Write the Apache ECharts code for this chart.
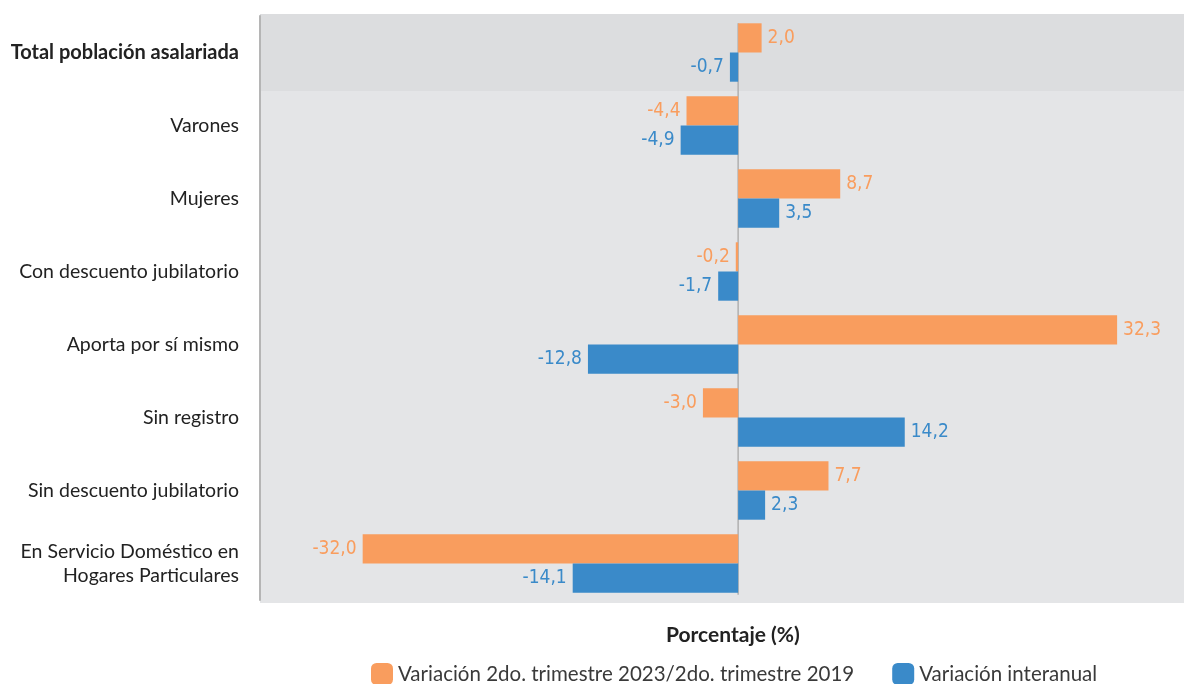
<!DOCTYPE html>
<html>
<head>
<meta charset="utf-8">
<script src="https://cdn.jsdelivr.net/npm/echarts@6/dist/echarts.min.js"></script>
<style>html,body{margin:0;padding:0;background:#fff}#c{width:1184px;height:684px}</style>
</head>
<body>
<div id="c"></div>
<script>
const categories = [
  'Total población asalariada',
  'Varones',
  'Mujeres',
  'Con descuento jubilatorio',
  'Aporta por sí mismo',
  'Sin registro',
  'Sin descuento jubilatorio',
  'En Servicio Doméstico en\nHogares Particulares'
];
const seriesNames = [
  'Variación 2do. trimestre 2023/2do. trimestre 2019',
  'Variación interanual'
];
const var2019 = [2.0, -4.4, 8.7, -0.2, 32.3, -3.0, 7.7, -32.0];
const varInteranual = [-0.7, -4.9, 3.5, -1.7, -12.8, 14.2, 2.3, -14.1];
const axisTitle = 'Porcentaje (%)';

const ORANGE = '#F99D5E';
const BLUE = '#3A8AC9';
const LIGHT = '#E4E5E7';
const DARK = '#DCDDDF';
const labelFont = "'Liberation Sans Narrow', 'DejaVu Sans Condensed', sans-serif";

function items(vals, color) {
  return vals.map(v => ({
    value: v,
    label: {
      show: true,
      position: v >= 0 ? 'right' : 'left',
      distance: 6,
      color: color,
      fontFamily: labelFont,
      fontSize: 19,
      formatter: p => p.value.toFixed(1).replace('.', ',')
    }
  }));
}

const W = 1184, H = 684;
const gridTop = 16, gridBottom = 84, gridLeft = 260;

const chart = echarts.init(document.getElementById('c'), null, {renderer: 'canvas'});
chart.setOption({
  animation: false,
  backgroundColor: '#fff',
  title: {
    text: axisTitle,
    left: 661, top: 620,
    textStyle: {fontFamily: 'Lato', fontWeight: 'bold', fontSize: 21, color: '#222'}
  },
  legend: {
    left: 366, top: 658,
    icon: 'roundRect',
    itemWidth: 22, itemHeight: 22, itemGap: 38,
    textStyle: {fontFamily: 'Lato', fontSize: 20.5, color: '#3a3a3a'},
    data: seriesNames
  },
  grid: {left: gridLeft, right: 0, top: gridTop, bottom: gridBottom, containLabel: false},
  xAxis: {
    type: 'value', min: -40.75, max: 38,
    axisLine: {show: false}, axisTick: {show: false},
    axisLabel: {show: false}, splitLine: {show: false}
  },
  yAxis: {
    type: 'category', inverse: true, data: categories,
    axisLine: {show: true, onZero: false, lineStyle: {color: '#B5B5B5', width: 2}},
    axisTick: {show: false},
    axisLabel: {
      margin: 21, fontFamily: 'Lato', fontSize: 19.5, color: '#222', lineHeight: 24,
      formatter: (v, i) => i === 0 ? '{b|' + v + '}' : v,
      rich: {b: {fontFamily: 'Lato', fontSize: 20, fontWeight: 'bold', color: '#222'}}
    }
  },
  series: [
    {
      name: seriesNames[0], type: 'bar', data: items(var2019, ORANGE),
      itemStyle: {color: ORANGE}, barGap: '0%', barCategoryGap: '20%'
    },
    {
      name: seriesNames[1], type: 'bar', data: items(varInteranual, BLUE),
      itemStyle: {color: BLUE}, barGap: '0%', barCategoryGap: '20%'
    }
  ]
});

// background bands and zero line, positioned via the chart's own scales
const x0 = chart.convertToPixel({xAxisIndex: 0}, 0);
const yFirst = chart.convertToPixel({yAxisIndex: 0}, categories[0]);
const yLast = chart.convertToPixel({yAxisIndex: 0}, categories[categories.length - 1]);
const band = (yLast - yFirst) / (categories.length - 1);
const halfBars = band * 0.8 / 2;
chart.setOption({
  graphic: [
    {type: 'rect', z: -10, silent: true,
     shape: {x: gridLeft, y: gridTop - 2, width: W - gridLeft, height: H - gridBottom - gridTop + 5},
     style: {fill: LIGHT}},
    {type: 'rect', z: -9, silent: true,
     shape: {x: gridLeft, y: gridTop - 2, width: W - gridLeft, height: band + 4},
     style: {fill: DARK}},
    {type: 'line', z: 1, silent: true,
     shape: {x1: x0, y1: yFirst - halfBars, x2: x0, y2: yLast + halfBars + 2},
     style: {stroke: '#B0B0B0', lineWidth: 1.5}}
  ]
});
</script>
</body>
</html>
